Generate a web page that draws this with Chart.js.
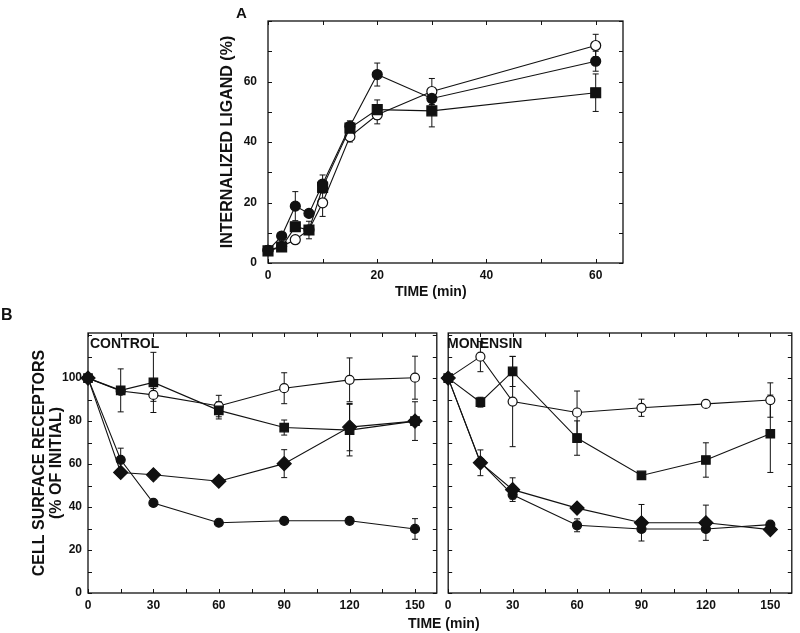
<!DOCTYPE html>
<html>
<head>
<meta charset="utf-8">
<script src="https://cdn.jsdelivr.net/npm/chart.js@4.4.0/dist/chart.umd.min.js"></script>
<style>
  body { margin: 0; background: #fff; font-family: "Liberation Sans", Arial, sans-serif; }
  #page { position: relative; width: 800px; height: 633px; overflow: hidden; background: #fff; }
  canvas { position: absolute; }
  .lbl { position: absolute; font-weight: bold; color: #111; white-space: nowrap; line-height: 1; }
</style>
</head>
<body>
<div id="page">
  <canvas id="chartA" width="440" height="300" style="left:210px;top:0px"></canvas>
  <canvas id="chartCtl" width="445" height="333" style="left:0px;top:300px"></canvas>
  <canvas id="chartMon" width="360" height="333" style="left:440px;top:300px"></canvas>
  <div class="lbl" style="left:236px;top:5px;font-size:15px">A</div>
  <div class="lbl" style="left:395px;top:284px;font-size:14px">TIME (min)</div>
  <div class="lbl" style="left:1px;top:307px;font-size:16px">B</div>
  <div class="lbl" style="left:90px;top:336px;font-size:14px">CONTROL</div>
  <div class="lbl" style="left:447px;top:336px;font-size:14px">MONENSIN</div>
  <div class="lbl" style="left:408px;top:616px;font-size:14px">TIME (min)</div>
</div>
<script>
// Panel A - internalized ligand
const timeA = [0, 2.5, 5, 7.5, 10, 15, 20, 30, 60];
const filledA = [4.2, 8.9, 18.8, 16.4, 26.1, 45.2, 62.3, 54.4, 66.7];
const openA = [4.2, 5.5, 7.7, 11, 19.9, 41.8, 49, 56.7, 71.9];
const squareA = [4, 5.3, 12, 10.9, 25, 44.6, 50.7, 50.3, 56.3];
const filledErrA = [0, 0, 4.8, 0, 3, 1.8, 3.8, 0, 3.3];
const openErrA = [0, 0, 0, 0, 4.5, 1.8, 3, 4.3, 3.7];
const squareErrA = [0, 0, 0, 2.9, 0, 0, 3.2, 5.3, 6.2];
const xTicksA = [0, 10, 20, 30, 40, 50, 60];
const xLabelsA = [0, 20, 40, 60];
const yTicksA = [0, 10, 20, 30, 40, 50, 60, 70, 80];
const yLabelsA = [0, 20, 40, 60];

// Panel B - cell surface receptors
const timeB = [0, 15, 30, 60, 90, 120, 150];
const ctlOpen = [100, 94, 92.2, 87, 95.3, 99.2, 100.2];
const ctlSquare = [100, 94.3, 98, 85, 77, 75.8, 80];
const ctlDiamond = [100, 56.1, 55, 52, 60.2, 77.2, 80];
const ctlFilled = [100, 62, 41.9, 32.7, 33.6, 33.6, 29.8];
const ctlOpenErr = [0, 0, 3, 5, 7.2, 10.2, 10];
const ctlSquareErr = [0, 10, 14, 4, 3.5, 12, 0];
const ctlDiamondErr = [0, 0, 2, 1, 6.5, 11, 9];
const ctlFilledErr = [0, 5.4, 0, 0, 0, 1, 4.8];

const monOpen = [100, 110, 89.1, 84, 86.2, 88, 89.8];
const monSquare = [100, 88.8, 103.1, 72.1, 54.7, 61.9, 74.1];
const monDiamond = [100, 60.6, 48.1, 39.5, 32.7, 32.7, 29.5];
const monFilled = [100, 60.9, 45.7, 31.5, 29.8, 29.8, 31.8];
const monOpenErr = [0, 7, 21, 10, 4, 1, 8];
const monSquareErr = [0, 2.3, 7, 8, 1, 8, 18];
const monDiamondErr = [0, 6, 5.5, 0, 8.5, 8.2, 0];
const monFilledErr = [0, 0, 2, 3, 0, 0, 0];

const xTicksB = [0, 15, 30, 45, 60, 75, 90, 105, 120, 135, 150];
const xLabelsB = [0, 30, 60, 90, 120, 150];
const yTicksB = [0, 10, 20, 30, 40, 50, 60, 70, 80, 90, 100, 110, 120];
const yLabelsB = [0, 20, 40, 60, 80, 100];

const INK = '#111';
const tickFont = { family: '"Liberation Sans", Arial, sans-serif', size: 12, weight: 'bold' };

function series(times, values, errors, style, radius, filled) {
  return {
    data: times.map((t, i) => ({ x: t, y: values[i] })),
    errors: errors,
    pointStyle: style,
    pointRadius: radius,
    pointHoverRadius: radius,
    pointBackgroundColor: filled ? INK : '#fff',
    pointBorderColor: INK,
    pointBorderWidth: 1.2,
    borderColor: INK,
    borderWidth: 1.1,
    fill: false,
    tension: 0,
    clip: false
  };
}

// box round the plot area, inward ticks, error bars
const framePlugin = {
  id: 'frame',
  beforeDatasetsDraw(chart, args, opts) {
    const { ctx, chartArea: a, scales } = chart;
    ctx.save();
    ctx.strokeStyle = INK;
    ctx.lineWidth = 1;
    ctx.beginPath();
    opts.xTicks.forEach(v => {
      const px = Math.round(scales.x.getPixelForValue(v)) + 0.5;
      ctx.moveTo(px, a.bottom); ctx.lineTo(px, a.bottom - 4);
      ctx.moveTo(px, a.top); ctx.lineTo(px, a.top + 4);
    });
    opts.yTicks.forEach(v => {
      const py = Math.round(scales.y.getPixelForValue(v)) + 0.5;
      ctx.moveTo(a.left, py); ctx.lineTo(a.left + 4, py);
      ctx.moveTo(a.right, py); ctx.lineTo(a.right - 4, py);
    });
    ctx.stroke();

    // error bars
    chart.data.datasets.forEach((ds, i) => {
      const meta = chart.getDatasetMeta(i);
      ds.errors.forEach((e, j) => {
        if (!e) return;
        const px = meta.data[j].x;
        const y0 = scales.y.getPixelForValue(ds.data[j].y - e);
        const y1 = scales.y.getPixelForValue(ds.data[j].y + e);
        ctx.beginPath();
        ctx.moveTo(px, y0); ctx.lineTo(px, y1);
        ctx.moveTo(px - 3, y0); ctx.lineTo(px + 3, y0);
        ctx.moveTo(px - 3, y1); ctx.lineTo(px + 3, y1);
        ctx.stroke();
      });
    });

    ctx.lineWidth = 1.3;
    ctx.strokeRect(a.left, a.top, a.right - a.left, a.bottom - a.top);
    ctx.restore();
  }
};

function panel(id, datasets, cfg) {
  return new Chart(document.getElementById(id), {
    type: 'line',
    data: { datasets: datasets },
    plugins: [framePlugin],
    options: {
      responsive: false,
      animation: false,
      devicePixelRatio: 1,
      layout: { padding: cfg.padding },
      plugins: {
        legend: { display: false },
        tooltip: { enabled: false },
        frame: { xTicks: cfg.xTicks, yTicks: cfg.yTicks }
      },
      scales: {
        x: {
          type: 'linear', min: cfg.xMin, max: cfg.xMax,
          afterBuildTicks: s => { s.ticks = cfg.xTicks.map(v => ({ value: v })); },
          afterFit: s => { s.height = cfg.xHeight; s.paddingLeft = 0; s.paddingRight = 0; },
          grid: { display: false, drawTicks: false },
          border: { display: false },
          ticks: {
            padding: 5, color: INK, font: tickFont, maxRotation: 0, autoSkip: false,
            callback: v => cfg.xLabels.includes(v) ? String(v) : ''
          }
        },
        y: {
          type: 'linear', min: cfg.yMin, max: cfg.yMax,
          afterBuildTicks: s => { s.ticks = cfg.yTicks.map(v => ({ value: v })); },
          afterFit: s => { s.width = cfg.yWidth; s.paddingTop = 0; s.paddingBottom = 0; },
          grid: { display: false, drawTicks: false },
          border: { display: false },
          ticks: {
            display: cfg.yShowLabels, padding: cfg.yPad, color: INK, font: tickFont, autoSkip: false,
            callback: v => cfg.yLabels.includes(v) ? String(v) : ''
          },
          title: cfg.yTitle
        }
      }
    }
  });
}

panel('chartA', [
  series(timeA, squareA, squareErrA, 'rect', 7, true),
  series(timeA, filledA, filledErrA, 'circle', 5, true),
  series(timeA, openA, openErrA, 'circle', 5, false)
], {
  padding: { left: 0, top: 21, right: 27, bottom: 0 },
  xMin: 0, xMax: 65, yMin: 0, yMax: 80,
  xTicks: xTicksA, xLabels: xLabelsA, yTicks: yTicksA, yLabels: yLabelsA,
  xHeight: 37, yWidth: 58, yPad: 11, yShowLabels: true,
  yTitle: {
    display: true, text: 'INTERNALIZED LIGAND (%)', color: INK,
    font: { family: tickFont.family, size: 16, weight: 'bold', lineHeight: 1.2 },
    padding: { top: 8, bottom: 0 }
  }
});

panel('chartCtl', [
  series(timeB, ctlSquare, ctlSquareErr, 'rect', 6, true),
  series(timeB, ctlOpen, ctlOpenErr, 'circle', 4.5, false),
  series(timeB, ctlDiamond, ctlDiamondErr, 'rectRot', 7, true),
  series(timeB, ctlFilled, ctlFilledErr, 'circle', 4.5, true)
], {
  padding: { left: 0, top: 33, right: 4, bottom: 0 },
  xMin: 0, xMax: 160, yMin: 0, yMax: 121,
  xTicks: xTicksB, xLabels: xLabelsB, yTicks: yTicksB, yLabels: yLabelsB,
  xHeight: 40, yWidth: 88, yPad: 6, yShowLabels: true,
  yTitle: {
    display: true, text: ['CELL SURFACE RECEPTORS', '(% OF INITIAL)'], color: INK,
    font: { family: tickFont.family, size: 16, weight: 'bold', lineHeight: 17 / 16 },
    padding: { top: 31, bottom: 0 }
  }
});

panel('chartMon', [
  series(timeB, monSquare, monSquareErr, 'rect', 6, true),
  series(timeB, monOpen, monOpenErr, 'circle', 4.5, false),
  series(timeB, monDiamond, monDiamondErr, 'rectRot', 7, true),
  series(timeB, monFilled, monFilledErr, 'circle', 4.5, true)
], {
  padding: { left: 0, top: 33, right: 3, bottom: 0 },
  xMin: 0, xMax: 160, yMin: 0, yMax: 121,
  xTicks: xTicksB, xLabels: xLabelsB, yTicks: yTicksB, yLabels: yLabelsB,
  xHeight: 40, yWidth: 4, yPad: 0, yShowLabels: false,
  yTitle: { display: false }
});
</script>
</body>
</html>
